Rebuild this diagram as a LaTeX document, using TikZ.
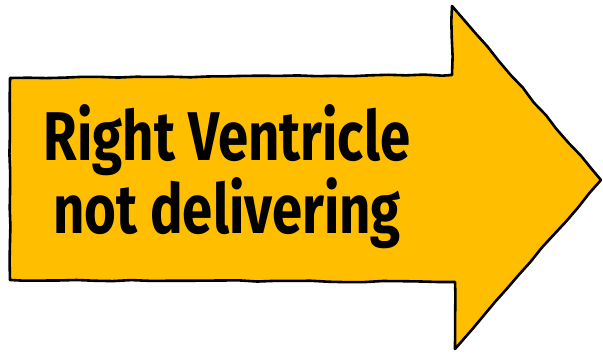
\documentclass[tikz,border=0pt]{standalone}
\usepackage{fontspec}
\setmainfont{Fira Sans}
\usetikzlibrary{decorations.pathmorphing}
\definecolor{arrowfill}{HTML}{FFBF00}
\begin{document}
\begin{tikzpicture}[x=1pt, y=-1pt, every node/.style={font=\bfseries}]
  \pgfmathsetseed{7}
  \useasboundingbox (0,0) rectangle (603,354);
  % arrow body, drawn a little wobbly
  \draw[fill=arrowfill, line width=2.6pt, line join=round,
        decorate, decoration={random steps, segment length=18pt, amplitude=0.7pt}]
    (10,78) -- (452,75) -- (452,6) -- (601,180) -- (455,349) -- (455,282) -- (10,280) -- cycle;
  % label
  \node[align=center, font=\fontsize{69}{66}\selectfont\bfseries, xscale=0.79, inner sep=0pt, anchor=base] (label) at (227,233)
    {Right Ventricle\\not delivering};
\end{tikzpicture}
\end{document}
